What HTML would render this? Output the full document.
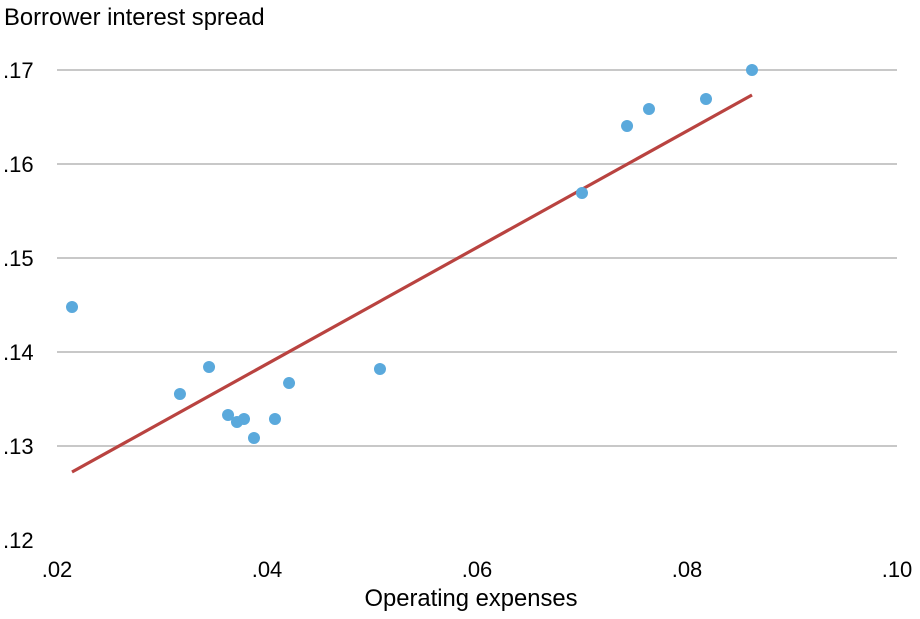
<!DOCTYPE html>
<html><head><meta charset="utf-8"><style>
body{margin:0;background:#fff}
svg{display:block;font-family:"Liberation Sans",Arial,sans-serif}
</style></head><body>
<svg id="chart" width="920" height="619">
<text x="4" y="25" font-size="23.8" fill="#000">Borrower interest spread</text>
<text x="471" y="606" font-size="23.8" fill="#000" text-anchor="middle">Operating expenses</text>
<g id="grid"></g><g id="ticks"></g><g id="fit"></g><g id="pts"></g>
</svg>
<script>
const xVals=[.02143,.03171,.03448,.03629,.03714,.03781,.03876,.04076,.04210,.05076,.07000,.07429,.07638,.08181,.08619];
const yVals=[.14479,.13553,.13840,.13330,.13255,.13287,.13085,.13287,.13670,.13819,.15691,.16404,.16585,.16691,.17000];
const fitX=[.02143,.08619];
const fitY=[.12723,.16734];
const xTicks=[.02,.04,.06,.08,.10];
const xTickLabels=[".02",".04",".06",".08",".10"];
const yTicks=[.12,.13,.14,.15,.16,.17];
const yTickLabels=[".12",".13",".14",".15",".16",".17"];
const NS="http://www.w3.org/2000/svg";
const sx=v=>57+(v-.02)*10500;
const sy=v=>70+(.17-v)*9400;
function mk(t,a,p){const e=document.createElementNS(NS,t);for(const k in a)e.setAttribute(k,a[k]);p.appendChild(e);return e;}
const grid=document.getElementById('grid'),ticks=document.getElementById('ticks');
yTicks.forEach((v,i)=>{
 if(v>.12){const l=mk('line',{x1:57,x2:897,y1:sy(v),y2:sy(v),stroke:'#c8c8c8','stroke-width':2},grid);
 
 }
 const t=mk('text',{x:3,y:sy(v)+8,'font-size':22},ticks);t.textContent=yTickLabels[i];
 
 
});
xTicks.forEach((v,i)=>{
 const t=mk('text',{x:sx(v),y:577,'font-size':22,'text-anchor':'middle'},ticks);t.textContent=xTickLabels[i];
 
 
});
const fl=mk('line',{x1:sx(fitX[0]),y1:sy(fitY[0]),x2:sx(fitX[1]),y2:sy(fitY[1]),stroke:'#b94340','stroke-width':3.2},document.getElementById('fit'));


const pts=document.getElementById('pts');
xVals.forEach((x,i)=>{
 const c=mk('circle',{cx:sx(x),cy:sy(yVals[i]),r:6,fill:'#5aa9dc'},pts);
 
 
});
</script>
</body></html>
